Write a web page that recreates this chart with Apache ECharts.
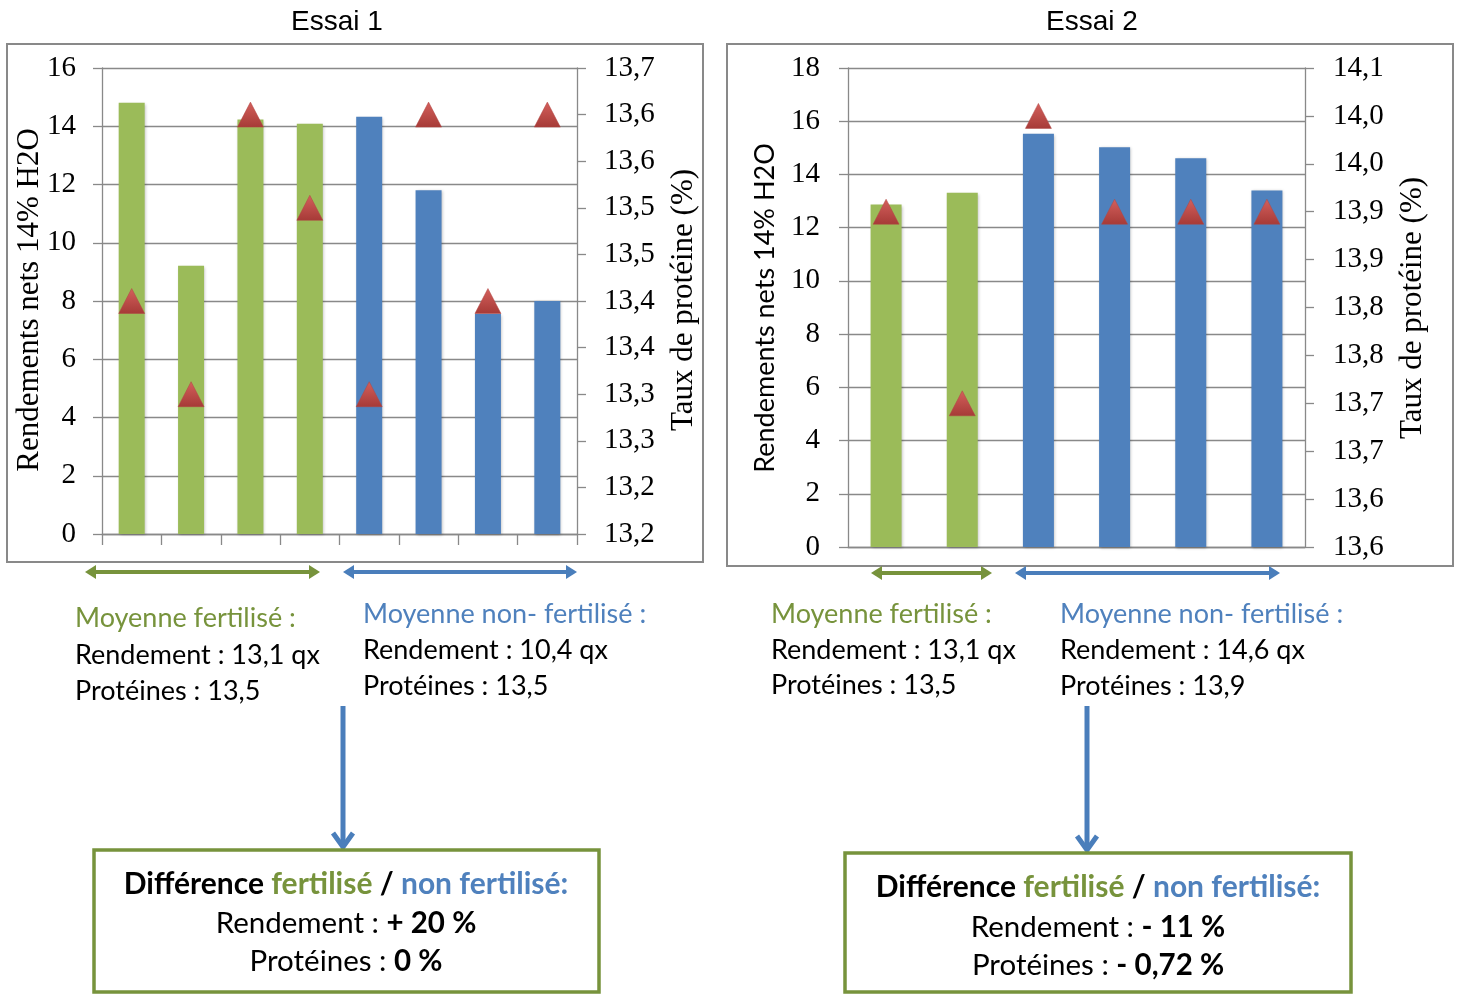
<!DOCTYPE html>
<html>
<head>
<meta charset="utf-8">
<script src="https://cdn.jsdelivr.net/npm/echarts@6/dist/echarts.min.js"></script>
<style>
html,body{margin:0;padding:0;background:#fff;}
#c{width:1461px;height:994px;}
</style>
</head>
<body>
<div id="c"></div>
<script>
// ---------- DATA ----------
const cats1 = ['P1','P2','P3','P4','P5','P6','P7','P8'];
const groups1 = ['fert','fert','fert','fert','non','non','non','non'];
const yield1 = [14.81, 9.21, 14.23, 14.09, 14.33, 11.80, 7.56, 8.00];
const prot1 = [13.45, 13.35, 13.65, 13.55, 13.35, 13.65, 13.45, 13.65];
const protTicks1 = ['13,2','13,2','13,3','13,3','13,4','13,4','13,5','13,5','13,6','13,6','13,7'];

const cats2 = ['P1','P2','P3','P4','P5','P6'];
const groups2 = ['fert','fert','non','non','non','non'];
const yield2 = [12.87, 13.31, 15.53, 15.02, 14.61, 13.40];
const prot2 = [13.95, 13.75, 14.05, 13.95, 13.95, 13.95];
const protTicks2 = ['13,6','13,6','13,7','13,7','13,8','13,8','13,9','13,9','14,0','14,0','14,1'];

// ---------- STYLE ----------
const GREEN = '#9BBB59', BLUE = '#4F81BD';
const GTXT = '#77933C', BTXT = '#4F81BD';
const GRID = '#898989';
const SERIF = '"Liberation Serif", "DejaVu Serif", serif';
const SANS = 'Lato, "Open Sans", sans-serif';
const ARIAL = '"Liberation Sans", Arial, sans-serif';

const chart = echarts.init(document.getElementById('c'));

function barData(vals, groups) {
  return vals.map((v, i) => ({ value: v, itemStyle: { color: groups[i] === 'fert' ? GREEN : BLUE } }));
}
const triColor = new echarts.graphic.LinearGradient(0, 0, 0, 1, [
  { offset: 0, color: '#D4605C' }, { offset: 1, color: '#A63A37' }
]);

function leftAxis(gi, max, margin) {
  return {
    type: 'value', gridIndex: gi, position: 'left', min: 0, max: max, interval: 2,
    axisLine: { show: true, lineStyle: { color: GRID, width: 1.3 } },
    axisTick: { show: true, length: 9, lineStyle: { color: GRID, width: 1.3 } },
    splitLine: { show: true, lineStyle: { color: GRID, width: 1.3 } },
    axisLabel: { color: '#000', fontFamily: SERIF, fontSize: 29, margin: margin }
  };
}
function rightAxis(gi, min, max, ticks, margin) {
  return {
    type: 'value', gridIndex: gi, position: 'right', min: min, max: max, interval: 0.05,
    axisLine: { show: true, lineStyle: { color: GRID, width: 1.3 } },
    axisTick: { show: true, length: 9, lineStyle: { color: GRID, width: 1.3 } },
    splitLine: { show: false },
    axisLabel: {
      color: '#000', fontFamily: SERIF, fontSize: 29, margin: margin,
      formatter: function (v) { return ticks[Math.round((v - min) / 0.05)]; }
    }
  };
}

function dblArrow(x1, x2, y, color) {
  return [
    { type: 'line', shape: { x1: x1 + 8, y1: y, x2: x2 - 8, y2: y }, style: { stroke: color, lineWidth: 4 } },
    { type: 'polygon', shape: { points: [[x1, y], [x1 + 11, y - 7], [x1 + 11, y + 7]] }, style: { fill: color } },
    { type: 'polygon', shape: { points: [[x2, y], [x2 - 11, y - 7], [x2 - 11, y + 7]] }, style: { fill: color } }
  ];
}
function downArrow(x, y1, y2, color) {
  return [
    { type: 'line', shape: { x1: x, y1: y1, x2: x, y2: y2 - 2 }, style: { stroke: color, lineWidth: 5 } },
    { type: 'polyline', shape: { points: [[x - 10, y2 - 14], [x, y2], [x + 10, y2 - 14]] }, style: { stroke: color, lineWidth: 5, fill: null } }
  ];
}
function txt(x, y, text, rich, align) {
  return {
    type: 'text', x: x, y: y,
    style: { text: text, rich: rich, align: align || 'left', verticalAlign: 'middle', fill: '#000', font: '27px ' + SANS }
  };
}
const richMean = {
  g: { fontFamily: SANS, fontSize: 27, fill: GTXT },
  b: { fontFamily: SANS, fontSize: 27, fill: BTXT },
  k: { fontFamily: SANS, fontSize: 27, fill: '#000' }
};
const richBox = {
  kb: { fontFamily: SANS, fontSize: 30, fontWeight: 'bold', fill: '#000' },
  gb: { fontFamily: SANS, fontSize: 30, fontWeight: 'bold', fill: GTXT },
  bb: { fontFamily: SANS, fontSize: 30, fontWeight: 'bold', fill: BTXT },
  k: { fontFamily: SANS, fontSize: 29.5, fill: '#000' }
};
const richBoxS = {
  kb: { fontFamily: SANS, fontSize: 29.5, fontWeight: 'bold', fill: '#000' },
  k: { fontFamily: SANS, fontSize: 29.5, fill: '#000' }
};

const graphics = [
  // panel frames
  { type: 'rect', shape: { x: 7, y: 44, width: 696, height: 518 }, style: { fill: null, stroke: GRID, lineWidth: 2 }, z: -1 },
  { type: 'rect', shape: { x: 727, y: 44, width: 726, height: 522 }, style: { fill: null, stroke: GRID, lineWidth: 2 }, z: -1 },
  // titles
  { type: 'text', x: 337, y: 22, style: { text: 'Essai 1', align: 'center', verticalAlign: 'middle', fill: '#000', font: '28px ' + ARIAL } },
  { type: 'text', x: 1092, y: 22, style: { text: 'Essai 2', align: 'center', verticalAlign: 'middle', fill: '#000', font: '28px ' + ARIAL } },
  // axis titles
  { type: 'text', x: 30, y: 300, rotation: Math.PI / 2, style: { text: 'Rendements nets 14% H2O', align: 'center', verticalAlign: 'middle', fill: '#000', font: '31px ' + SERIF } },
  { type: 'text', x: 684, y: 300, rotation: Math.PI / 2, style: { text: 'Taux de protéine (%)', align: 'center', verticalAlign: 'middle', fill: '#000', font: '31px ' + SERIF } },
  { type: 'text', x: 765, y: 308, rotation: Math.PI / 2, style: { text: 'Rendements nets 14% H2O', align: 'center', verticalAlign: 'middle', fill: '#000', font: '27px ' + SANS } },
  { type: 'text', x: 1413, y: 308, rotation: Math.PI / 2, style: { text: 'Taux de protéine (%)', align: 'center', verticalAlign: 'middle', fill: '#000', font: '31px ' + SERIF } },
  // range arrows
  ...dblArrow(85, 320, 572, GTXT),
  ...dblArrow(343, 577, 572, '#4A7EBB'),
  ...dblArrow(871, 992, 573, GTXT),
  ...dblArrow(1015, 1280, 573, '#4A7EBB'),
  // means text
  txt(75, 618, '{g|Moyenne fertilisé :}', richMean),
  txt(75, 655, '{k|Rendement : 13,1 qx}', richMean),
  txt(75, 691, '{k|Protéines : 13,5}', richMean),
  txt(363, 614, '{b|Moyenne non- fertilisé :}', richMean),
  txt(363, 650, '{k|Rendement : 10,4 qx}', richMean),
  txt(363, 686, '{k|Protéines : 13,5}', richMean),
  txt(771, 614, '{g|Moyenne fertilisé :}', richMean),
  txt(771, 650, '{k|Rendement : 13,1 qx}', richMean),
  txt(771, 685, '{k|Protéines : 13,5}', richMean),
  txt(1060, 614, '{b|Moyenne non- fertilisé :}', richMean),
  txt(1060, 650, '{k|Rendement : 14,6 qx}', richMean),
  txt(1060, 686, '{k|Protéines : 13,9}', richMean),
  // down arrows
  ...downArrow(343, 706, 847, '#4A7EBB'),
  ...downArrow(1087, 706, 850, '#4A7EBB'),
  // boxes
  { type: 'rect', shape: { x: 94, y: 850, width: 505, height: 142 }, style: { fill: null, stroke: GTXT, lineWidth: 3.5 } },
  { type: 'rect', shape: { x: 845, y: 853, width: 506, height: 139 }, style: { fill: null, stroke: GTXT, lineWidth: 3.5 } },
  txt(346, 884, '{kb|Différence }{gb|fertilisé}{kb| / }{bb|non fertilisé:}', richBox, 'center'),
  txt(346, 923, '{k|Rendement : }{kb|+ 20 %}', richBoxS, 'center'),
  txt(346, 961, '{k|Protéines : }{kb|0 %}', richBoxS, 'center'),
  txt(1098, 887, '{kb|Différence }{gb|fertilisé}{kb| / }{bb|non fertilisé:}', richBox, 'center'),
  txt(1098, 927, '{k|Rendement : }{kb|- 11 %}', richBoxS, 'center'),
  txt(1098, 965, '{k|Protéines : }{kb|- 0,72 %}', richBoxS, 'center')
];

const option = {
  animation: false,
  backgroundColor: '#fff',
  grid: [
    { left: 102, top: 68, width: 475, height: 466 },
    { left: 848, top: 68, width: 457, height: 479 }
  ],
  xAxis: [
    { type: 'category', gridIndex: 0, data: cats1, boundaryGap: true,
      axisLine: { show: true, lineStyle: { color: GRID, width: 1.3 } },
      axisTick: { show: true, length: 11, alignWithLabel: false, lineStyle: { color: GRID, width: 1.3 } },
      axisLabel: { show: false } },
    { type: 'category', gridIndex: 1, data: cats2, boundaryGap: true,
      axisLine: { show: true, lineStyle: { color: GRID, width: 1.3 } },
      axisTick: { show: false },
      axisLabel: { show: false } }
  ],
  yAxis: [
    leftAxis(0, 16, 26),
    rightAxis(0, 13.2, 13.7, protTicks1, 27),
    leftAxis(1, 18, 28),
    rightAxis(1, 13.6, 14.1, protTicks2, 28)
  ],
  series: [
    { type: 'bar', xAxisIndex: 0, yAxisIndex: 0, barWidth: 26, data: barData(yield1, groups1),
      itemStyle: { shadowBlur: 3, shadowColor: 'rgba(0,0,0,0.25)', shadowOffsetX: 1, shadowOffsetY: 1 } },
    { type: 'scatter', xAxisIndex: 0, yAxisIndex: 1, symbol: 'triangle', symbolSize: [26, 25], z: 5, data: prot1,
      itemStyle: { color: triColor, borderColor: '#B04542', borderWidth: 0.5, opacity: 1 } },
    { type: 'bar', xAxisIndex: 1, yAxisIndex: 2, barWidth: 31, data: barData(yield2, groups2),
      itemStyle: { shadowBlur: 3, shadowColor: 'rgba(0,0,0,0.25)', shadowOffsetX: 1, shadowOffsetY: 1 } },
    { type: 'scatter', xAxisIndex: 1, yAxisIndex: 3, symbol: 'triangle', symbolSize: [26, 25], z: 5, data: prot2,
      itemStyle: { color: triColor, borderColor: '#B04542', borderWidth: 0.5, opacity: 1 } }
  ],
  graphic: graphics
};
chart.setOption(option);
</script>
</body>
</html>
